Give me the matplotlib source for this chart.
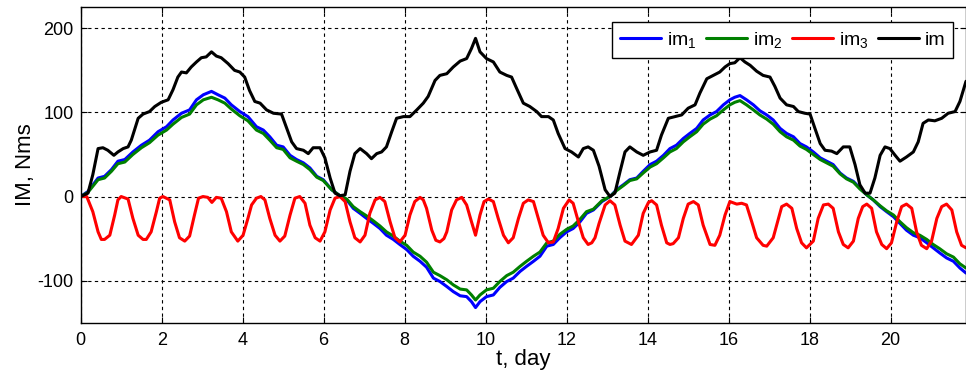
import numpy as np
import matplotlib
matplotlib.use('Agg')
import matplotlib.pyplot as plt

plt.rcParams['font.family'] = ['Liberation Sans', 'DejaVu Sans']
plt.rcParams['mathtext.fontset'] = 'custom'
plt.rcParams['mathtext.rm'] = 'Liberation Sans'
plt.rcParams['mathtext.it'] = 'Liberation Sans:italic'
plt.rcParams['mathtext.default'] = 'regular'
plt.rcParams['axes.unicode_minus'] = False

# im1 / im2 (same time points)
t12 = [0.00, 0.18, 0.43, 0.59, 0.76, 0.92, 1.09, 1.29, 1.50, 1.70, 1.91, 2.12, 2.28, 2.49,
       2.69, 2.86, 3.03, 3.23, 3.39, 3.56, 3.72, 3.93, 4.13, 4.34, 4.51, 4.67, 4.84, 5.00,
       5.17, 5.33, 5.50, 5.66, 5.83, 5.99, 6.20, 6.40, 6.57, 6.73, 6.90, 7.06, 7.23, 7.39,
       7.55, 7.72, 7.88, 8.05, 8.21, 8.38, 8.54, 8.71, 8.87, 9.04, 9.20, 9.37, 9.53, 9.65,
       9.75, 9.86, 10.02, 10.19, 10.35, 10.52, 10.68, 10.85, 11.01, 11.18, 11.34, 11.51,
       11.67, 11.83, 12.00, 12.16, 12.33, 12.49, 12.66, 12.87, 13.07, 13.23, 13.40, 13.56,
       13.73, 13.89, 14.06, 14.22, 14.39, 14.55, 14.71, 14.88, 15.04, 15.21, 15.37, 15.54,
       15.70, 15.87, 16.03, 16.15, 16.28, 16.44, 16.61, 16.77, 16.94, 17.10, 17.27, 17.43,
       17.60, 17.76, 17.92, 18.09, 18.26, 18.42, 18.58, 18.75, 18.91, 19.08, 19.24, 19.41,
       19.57, 19.74, 19.90, 20.07, 20.23, 20.39, 20.56, 20.72, 20.89, 21.05, 21.21, 21.38,
       21.55, 21.71, 21.86]
im1 = [0, 6, 22, 24, 32, 42, 44, 53, 61, 67, 77, 83, 91, 99,
       103, 115, 121, 125, 121, 117, 109, 101, 95, 83, 79, 71, 61, 59,
       49, 44, 40, 34, 24, 20, 8, 1, -4, -14, -20, -26, -32, -38,
       -46, -51, -57, -63, -71, -77, -84, -97, -101, -107, -113, -118, -119, -125,
       -132, -125, -119, -117, -108, -101, -97, -89, -83, -77, -71, -59,
       -57, -49, -42, -38, -30, -20, -16, -6, 0, 8, 14, 20,
       22, 30, 38, 42, 49, 57, 61, 69, 75, 81, 91, 97,
       101, 109, 115, 118, 120, 115, 109, 102, 97, 91, 81, 75,
       71, 63, 59, 53, 46, 42, 38, 28, 22, 18, 10, 2,
       -4, -12, -18, -24, -32, -40, -46, -49, -55, -61, -67, -73,
       -77, -85, -91]
im2 = [0, 5, 20, 22, 30, 39, 41, 50, 58, 64, 73, 79, 86, 94,
       98, 109, 115, 118, 115, 111, 104, 96, 90, 79, 75, 67, 58, 56,
       46, 42, 38, 32, 23, 19, 8, 1, -3, -12, -18, -23, -29, -35,
       -42, -47, -53, -58, -66, -71, -78, -90, -94, -99, -105, -110, -111, -117,
       -123, -117, -111, -109, -101, -94, -90, -83, -77, -71, -66, -55,
       -53, -45, -39, -35, -27, -18, -15, -5, 0, 7, 13, 19,
       21, 28, 35, 39, 46, 53, 57, 65, 71, 77, 86, 92,
       96, 103, 109, 112, 114, 109, 103, 97, 92, 86, 77, 71,
       67, 60, 56, 50, 44, 40, 36, 27, 21, 17, 9, 2,
       -4, -11, -17, -22, -30, -37, -43, -46, -51, -57, -62, -68,
       -72, -80, -85]

# im3
t3 = [0.00, 0.15, 0.30, 0.43, 0.51, 0.59, 0.72, 0.84, 0.92, 1.00, 1.17, 1.29, 1.42, 1.54,
      1.62, 1.74, 1.87, 1.95, 2.03, 2.20, 2.32, 2.44, 2.57, 2.69, 2.81, 2.91, 3.02, 3.14,
      3.24, 3.35, 3.47, 3.60, 3.72, 3.88, 4.01, 4.13, 4.22, 4.34, 4.45, 4.55, 4.67, 4.80,
      4.92, 5.04, 5.17, 5.29, 5.41, 5.54, 5.66, 5.79, 5.91, 6.03, 6.16, 6.28, 6.40, 6.53,
      6.65, 6.77, 6.90, 7.02, 7.14, 7.27, 7.39, 7.51, 7.64, 7.76, 7.88, 8.01, 8.13, 8.25,
      8.38, 8.46, 8.54, 8.67, 8.77, 8.87, 8.97, 9.04, 9.16, 9.28, 9.41, 9.53, 9.65, 9.75,
      9.86, 9.96, 10.07, 10.19, 10.31, 10.44, 10.56, 10.68, 10.81, 10.93, 11.05, 11.18,
      11.30, 11.42, 11.55, 11.67, 11.79, 11.92, 12.06, 12.16, 12.29, 12.41, 12.53, 12.62,
      12.70, 12.80, 12.95, 13.07, 13.19, 13.32, 13.44, 13.60, 13.77, 13.89, 14.02, 14.10,
      14.22, 14.34, 14.47, 14.55, 14.63, 14.76, 14.88, 15.00, 15.13, 15.25, 15.37, 15.54,
      15.66, 15.78, 15.91, 16.03, 16.20, 16.32, 16.44, 16.57, 16.69, 16.85, 16.94, 17.10,
      17.23, 17.31, 17.43, 17.56, 17.68, 17.80, 17.92, 18.09, 18.21, 18.34, 18.46, 18.58,
      18.71, 18.83, 18.95, 19.08, 19.20, 19.31, 19.41, 19.53, 19.65, 19.78, 19.90, 20.02,
      20.15, 20.27, 20.39, 20.52, 20.64, 20.76, 20.89, 21.01, 21.14, 21.26, 21.38, 21.51,
      21.63, 21.75, 21.86]
im3 = [0, 0, -18, -42, -51, -51, -46, -22, -4, 0, -3, -26, -46, -51,
       -51, -42, -18, -2, 0, -4, -30, -49, -53, -47, -22, -2, 0, -1,
       -7, -1, -2, -18, -42, -53, -46, -26, -10, -2, 0, -4, -26, -46,
       -53, -47, -22, -2, 0, -8, -34, -49, -53, -42, -16, -2, 0, -6,
       -30, -49, -54, -46, -20, -4, -1, -6, -30, -49, -54, -46, -22, -6,
       -1, -4, -14, -40, -52, -54, -50, -42, -16, -4, -1, -10, -30, -46,
       -22, -6, -3, -6, -26, -46, -55, -49, -26, -8, -4, -6,
       -26, -46, -55, -54, -38, -14, -4, -8, -30, -49, -57, -55,
       -49, -32, -10, -5, -10, -34, -53, -57, -46, -20, -7, -5,
       -10, -34, -55, -57, -56, -49, -26, -9, -6, -10, -34, -57,
       -58, -46, -22, -6, -9, -8, -10, -30, -49, -58, -59, -49,
       -26, -12, -9, -14, -38, -55, -61, -53, -26, -10, -9, -14,
       -42, -57, -61, -53, -26, -12, -9, -14, -42, -57, -62, -55,
       -30, -12, -9, -14, -42, -58, -62, -53, -26, -12, -9, -16,
       -42, -58, -61]

# im
t0 = [0.00, 0.18, 0.30, 0.43, 0.55, 0.67, 0.82, 0.92, 1.05, 1.17, 1.25, 1.42, 1.54, 1.70,
      1.83, 1.99, 2.16, 2.28, 2.40, 2.49, 2.61, 2.73, 2.86, 2.98, 3.10, 3.23, 3.35, 3.47,
      3.64, 3.80, 3.93, 4.05, 4.17, 4.30, 4.43, 4.59, 4.76, 4.96, 5.09, 5.21, 5.33, 5.50,
      5.62, 5.74, 5.91, 6.03, 6.16, 6.28, 6.40, 6.53, 6.65, 6.77, 6.90, 7.06, 7.18, 7.31,
      7.43, 7.55, 7.68, 7.80, 7.97, 8.13, 8.30, 8.46, 8.58, 8.67, 8.75, 8.87, 9.04, 9.20,
      9.37, 9.53, 9.65, 9.75, 9.86, 10.02, 10.19, 10.35, 10.52, 10.64, 10.76, 10.93, 11.09,
      11.26, 11.38, 11.55, 11.67, 11.79, 11.96, 12.12, 12.29, 12.41, 12.53, 12.66, 12.80,
      12.95, 13.07, 13.19, 13.32, 13.44, 13.56, 13.73, 13.89, 14.06, 14.22, 14.34, 14.51,
      14.67, 14.84, 15.00, 15.17, 15.29, 15.46, 15.62, 15.78, 15.91, 16.03, 16.15, 16.28,
      16.40, 16.53, 16.69, 16.85, 17.02, 17.14, 17.27, 17.43, 17.60, 17.72, 17.88, 18.01,
      18.13, 18.26, 18.38, 18.54, 18.67, 18.83, 18.99, 19.12, 19.24, 19.37, 19.49, 19.61,
      19.74, 19.86, 19.98, 20.11, 20.23, 20.39, 20.56, 20.68, 20.80, 20.93, 21.09, 21.26,
      21.42, 21.59, 21.71, 21.86]
im = [0, 4, 26, 57, 58, 55, 49, 53, 57, 59, 67, 93, 98, 101,
      107, 112, 115, 127, 142, 148, 147, 154, 160, 165, 166, 172, 167, 165,
      158, 150, 148, 142, 126, 113, 111, 103, 99, 98, 81, 65, 57, 55,
      51, 58, 58, 46, 22, 4, 1, 2, 30, 51, 57, 51, 45, 51,
      53, 59, 77, 93, 95, 95, 103, 111, 119, 129, 138, 144, 146, 154,
      161, 164, 176, 188, 172, 164, 160, 148, 144, 142, 129, 111, 107,
      101, 95, 95, 91, 75, 57, 53, 47, 57, 59, 55, 36,
      8, 0, 4, 30, 53, 59, 53, 49, 53, 55, 73, 93,
      95, 97, 105, 109, 123, 140, 144, 148, 154, 158, 159, 165,
      160, 156, 149, 144, 142, 131, 117, 109, 107, 101, 99, 98,
      81, 63, 55, 54, 51, 59, 59, 38, 14, 4, 4, 22,
      49, 59, 57, 49, 42, 47, 53, 65, 87, 91, 90, 93,
      99, 101, 113, 137]

fig = plt.figure(figsize=(9.66, 3.72), dpi=100)
ax = fig.add_axes([0.0835, 0.1325, 0.9165, 0.848])

style = dict(lw=2.2, solid_joinstyle='round', solid_capstyle='round')
ax.plot(t12, im1, color='#0000ff', label='im$_1$', **style)
ax.plot(t12, im2, color='#008000', label='im$_2$', **style)
ax.plot(t3, im3, color='#ff0000', label='im$_3$', **style)
ax.plot(t0, im, color='black', label='im', **style)

ax.set_xlim(0, 21.86)
ax.set_ylim(-150, 225)
ax.set_xticks(np.arange(0, 21, 2))
ax.set_yticks([-100, 0, 100, 200])
ax.grid(True, color='black', linestyle=(0, (3, 3)), linewidth=0.8)
ax.tick_params(direction='in', length=4, top=True, right=True, labelsize=13)
ax.tick_params(axis='x', pad=7)
ax.tick_params(axis='y', pad=5)
for s in ax.spines.values():
    s.set_linewidth(1.0)

ax.set_xlabel('t, day', fontsize=16, labelpad=0)
ax.set_ylabel('IM, Nms', fontsize=16, labelpad=1)

leg = ax.legend(loc='upper right', ncol=4, fontsize=14, frameon=True, fancybox=False,
                edgecolor='black', framealpha=1, handlelength=2.1, handletextpad=0.3,
                columnspacing=0.5, borderpad=0.4, bbox_to_anchor=(0.9966, 0.984))
leg.get_frame().set_linewidth(1.0)

fig.savefig('out.png', dpi=100)
